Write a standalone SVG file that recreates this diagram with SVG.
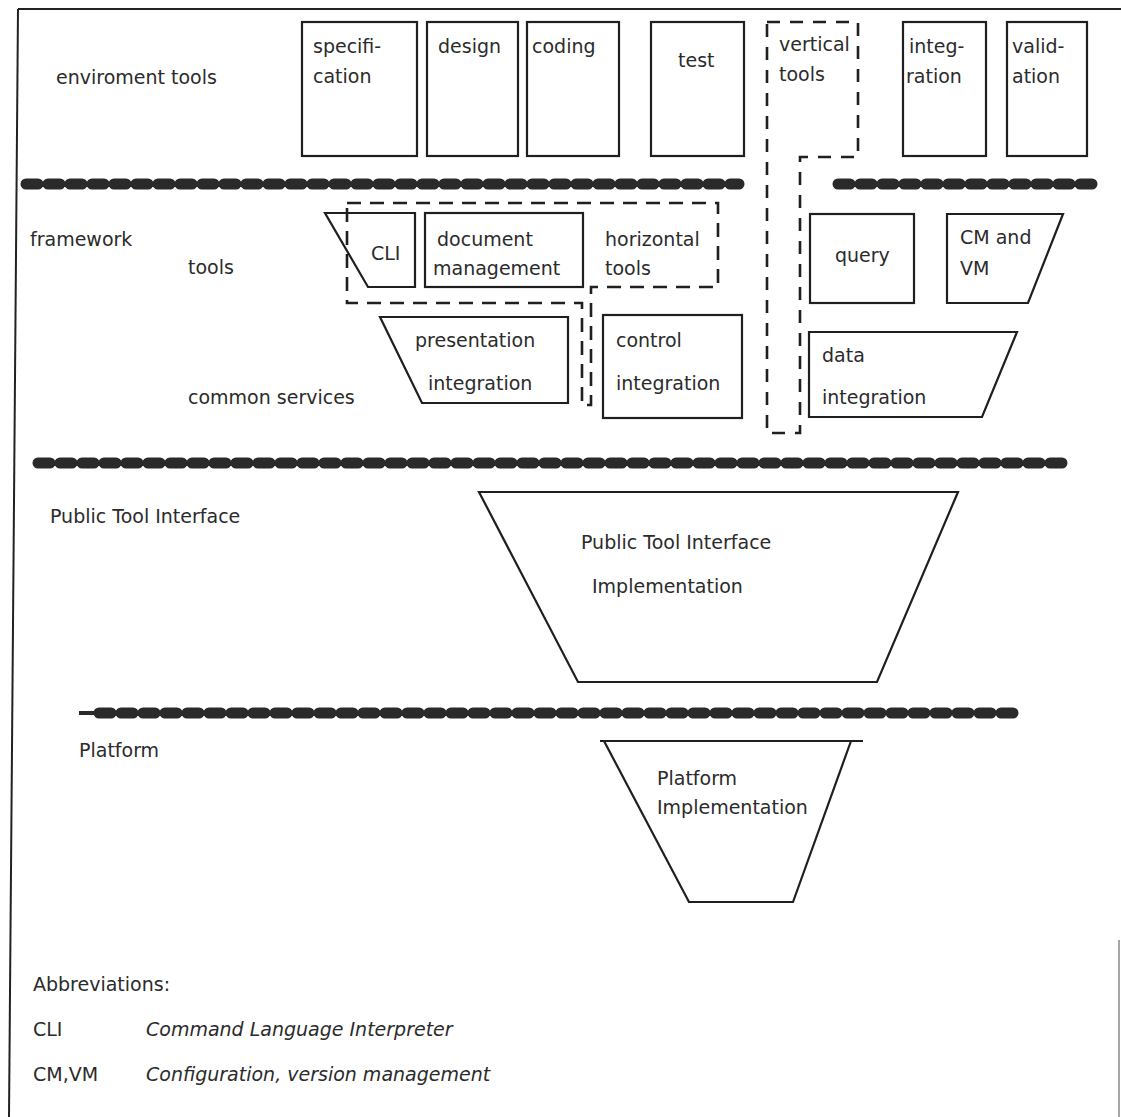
<svg xmlns="http://www.w3.org/2000/svg" width="1121" height="1117" viewBox="0 0 1121 1117">
<style>
text{font-family:"DejaVu Sans","Liberation Sans",sans-serif;font-size:19px;fill:#2b2b2b}
.it{font-style:italic}
.box{fill:none;stroke:#1f1f1f;stroke-width:2.2;stroke-linejoin:miter}
.dash{fill:none;stroke:#1f1f1f;stroke-width:2.6;stroke-dasharray:14 9}
.vdash{fill:none;stroke:#1f1f1f;stroke-width:2.6;stroke-dasharray:13 10}
.bar{fill:none;stroke:#2a2a2a;stroke-width:11;stroke-linecap:round;stroke-dasharray:12 10}
.frame{fill:none;stroke:#222;stroke-width:2}
</style>
<rect width="1121" height="1117" fill="#fff"/>
<g id="frame">
<path class="frame" d="M18,9 H1121"/>
<path class="frame" d="M18,9 L9,1117"/>
<path d="M1119,940 V1117" stroke="#888" stroke-width="1.5" fill="none"/>
</g>
<g id="layers">
<path class="bar" d="M26,184 H739"/>
<path class="bar" d="M838,184 H1096"/>
<path class="bar" d="M38,463 H1069"/>
<path d="M79,713 H95" stroke="#2a2a2a" stroke-width="4" fill="none"/>
<path class="bar" d="M99,713 H1021"/>
</g>
<g id="connectors"/>
<g id="labels">
<text x="56" y="84">enviroment tools</text>
<text x="30" y="246">framework</text>
<text x="188" y="274">tools</text>
<text x="188" y="404">common services</text>
<text x="50" y="523">Public Tool Interface</text>
<text x="79" y="757">Platform</text>
</g>
<g id="specification"><rect class="box" x="302" y="22" width="115" height="134"/><text x="313" y="53">specifi-</text><text x="313" y="83">cation</text></g>
<g id="design"><rect class="box" x="427" y="22" width="91" height="134"/><text x="438" y="53">design</text></g>
<g id="coding"><rect class="box" x="527" y="22" width="92" height="134"/><text x="532" y="53">coding</text></g>
<g id="test"><rect class="box" x="651" y="22" width="93" height="134"/><text x="678" y="67">test</text></g>
<g id="vertical-tools"><path class="vdash" d="M767,22 H858 V157 H800 V433 H767 Z"/><text x="779" y="51">vertical</text><text x="779" y="81">tools</text></g>
<g id="integration"><rect class="box" x="903" y="22" width="83" height="134"/><text x="909" y="53">integ-</text><text x="906" y="83">ration</text></g>
<g id="validation"><rect class="box" x="1007" y="22" width="80" height="134"/><text x="1012" y="53">valid-</text><text x="1012" y="83">ation</text></g>
<g id="horizontal-tools"><path class="dash" d="M347,203 H718 V287 H591 V405 H582 V303 H347 Z"/><text x="605" y="246">horizontal</text><text x="605" y="275">tools</text></g>
<g id="cli"><path class="box" d="M325,213 H415 V287 H368 Z"/><text x="371" y="260">CLI</text></g>
<g id="document-management"><rect class="box" x="425" y="213" width="158" height="74"/><text x="437" y="246">document</text><text x="433" y="275">management</text></g>
<g id="query"><rect class="box" x="810" y="214" width="104" height="89"/><text x="835" y="262">query</text></g>
<g id="cm-vm"><path class="box" d="M947,214 H1063 L1028,303 H947 Z"/><text x="960" y="244">CM and</text><text x="960" y="275">VM</text></g>
<g id="presentation-integration"><path class="box" d="M380,317 H568 V403 H422 Z"/><text x="415" y="347">presentation</text><text x="428" y="390">integration</text></g>
<g id="control-integration"><rect class="box" x="603" y="315" width="139" height="103"/><text x="616" y="347">control</text><text x="616" y="390">integration</text></g>
<g id="data-integration"><path class="box" d="M809,332 H1017 L982,417 H809 Z"/><text x="822" y="362">data</text><text x="822" y="404">integration</text></g>
<g id="pti-implementation"><path class="box" d="M479,492 H958 L877,682 H578 Z"/><text x="581" y="549">Public Tool Interface</text><text x="592" y="593">Implementation</text></g>
<g id="platform-implementation"><path class="box" d="M600,741 H863 M851,741 L793,902 H689 L604,741"/><text x="657" y="785">Platform</text><text x="657" y="814">Implementation</text></g>
<g id="abbreviations">
<text x="33" y="991">Abbreviations:</text>
<text x="33" y="1036">CLI</text><text class="it" x="146" y="1036">Command Language Interpreter</text>
<text x="33" y="1081">CM,VM</text><text class="it" x="146" y="1081">Configuration, version management</text>
</g>
</svg>
